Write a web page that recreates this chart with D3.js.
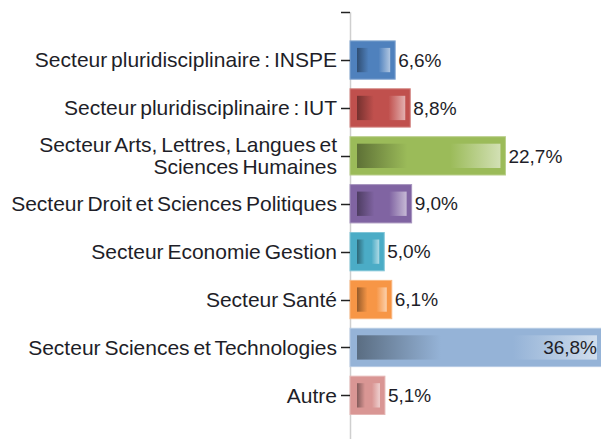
<!DOCTYPE html>
<html><head><meta charset="utf-8">
<script src="https://cdn.jsdelivr.net/npm/d3@7"></script>
<style>body{margin:0;background:#fff}svg{display:block}</style>
</head><body>
<svg id="c" width="601" height="439"></svg>
<script>
const categories = [
  ["Secteur pluridisciplinaire : INSPE"],
  ["Secteur pluridisciplinaire : IUT"],
  ["Secteur Arts, Lettres, Langues et", "Sciences Humaines"],
  ["Secteur Droit et Sciences Politiques"],
  ["Secteur Economie Gestion"],
  ["Secteur Santé"],
  ["Secteur Sciences et Technologies"],
  ["Autre"]
];
const values = [6.6, 8.8, 22.7, 9.0, 5.0, 6.1, 36.8, 5.1];
const valueLabels = ["6,6%", "8,8%", "22,7%", "9,0%", "5,0%", "6,1%", "36,8%", "5,1%"];
const colors = ["#4F81BD", "#C0504D", "#9BBB59", "#8064A2", "#4BACC6", "#F79646", "#95B3D7", "#D99694"];

const svg = d3.select("#c");
const keys = categories.map(c => c.join(" "));
const y = d3.scaleBand().domain(keys).range([36.1, 419.3]).paddingInner(0.2).paddingOuter(0.1);
const x = d3.scaleLinear().domain([0, 36.8]).range([350, 602]);

const defs = svg.append("defs");
colors.forEach((c, i) => {
  const base = d3.color(c);
  const dark = base.darker(1.4);
  const light = d3.interpolateRgb(c, "#fff")(0.55);
  const g = defs.append("linearGradient").attr("id", "g" + i).attr("x1", 0).attr("x2", 1).attr("y1", 0).attr("y2", 0);
  g.append("stop").attr("offset", 0).attr("stop-color", dark.formatHex());
  g.append("stop").attr("offset", 0.35).attr("stop-color", c);
  g.append("stop").attr("offset", 0.65).attr("stop-color", c);
  g.append("stop").attr("offset", 1).attr("stop-color", light);
});

const step = y.step();
svg.append("line").attr("x1", 350.5).attr("x2", 350.5)
  .attr("y1", y(keys[0]) + y.bandwidth()/2 - step).attr("y2", 439)
  .attr("stroke", "#cfcfcf").attr("stroke-width", 1.5);

const bars = svg.append("g").selectAll("g").data(values).join("g");
bars.append("rect")
  .attr("x", x(0)).attr("y", (d, i) => y(keys[i]))
  .attr("width", d => x(d) - x(0)).attr("height", y.bandwidth())
  .attr("fill", (d, i) => colors[i])
  .attr("stroke", (d, i) => d3.interpolateRgb(colors[i], "#fff")(0.3))
  .attr("stroke-width", 1);
bars.append("rect")
  .attr("x", x(0) + 7).attr("y", (d, i) => y(keys[i]) + 7)
  .attr("width", d => Math.max(0, x(d) - x(0) - 12)).attr("height", y.bandwidth() - 14)
  .attr("fill", (d, i) => `url(#g${i})`);

const tickYs = [y(keys[0]) + y.bandwidth()/2 - step].concat(keys.map(k => y(k) + y.bandwidth()/2));
svg.append("g").selectAll("line").data(tickYs).join("line")
  .attr("x1", 341).attr("x2", 350).attr("y1", d => Math.round(d) + 0.5).attr("y2", d => Math.round(d) + 0.5)
  .attr("stroke", "#222").attr("stroke-width", 1.5);

const lab = svg.append("g").attr("font-family", "Liberation Sans, Arial, sans-serif")
  .attr("font-size", 21).attr("fill", "#1e1e28").attr("text-anchor", "end").attr("word-spacing", -2);
categories.forEach((lines, i) => {
  const cy = y(keys[i]) + y.bandwidth()/2;
  const lh = 22;
  lines.forEach((t, j) => {
    lab.append("text").attr("x", 337)
      .attr("y", cy + (j - (lines.length - 1)/2) * lh)
      .attr("dy", "0.35em").text(t);
  });
});

const vl = svg.append("g").attr("font-family", "Liberation Sans, Arial, sans-serif")
  .attr("font-size", 19).attr("fill", "#1e1e28");
values.forEach((v, i) => {
  const cy = y(keys[i]) + y.bandwidth()/2;
  const inside = x(v) + 50 > 601;
  vl.append("text")
    .attr("x", inside ? 597 : x(v) + 3)
    .attr("text-anchor", inside ? "end" : "start")
    .attr("y", cy).attr("dy", "0.35em").text(valueLabels[i]);
});
</script>
</body></html>
